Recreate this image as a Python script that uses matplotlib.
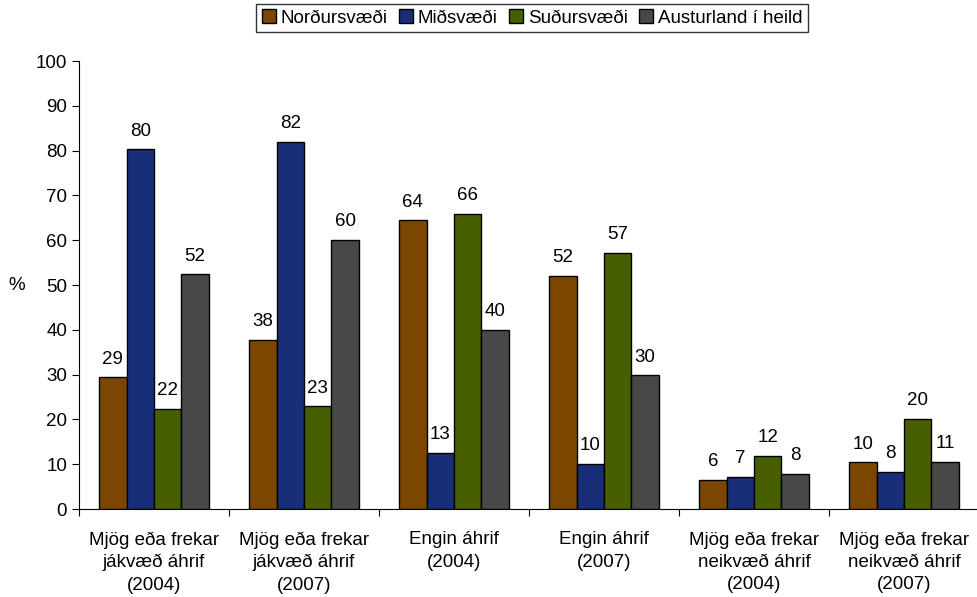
import numpy as np
import matplotlib.pyplot as plt

plt.rcParams['font.family'] = ['Liberation Sans', 'DejaVu Sans']

# categories and series
categories = ['Mjög eða frekar\njákvæð áhrif\n(2004)', 'Mjög eða frekar\njákvæð áhrif\n(2007)',
              'Engin áhrif\n(2004)', 'Engin áhrif\n(2007)',
              'Mjög eða frekar\nneikvæð áhrif\n(2004)', 'Mjög eða frekar\nneikvæð áhrif\n(2007)']
series_names = ['Norðursvæði', 'Miðsvæði', 'Suðursvæði', 'Austurland í heild']
nordur = [29.4, 37.7, 64.4, 52.0, 6.5, 10.4]
midur = [80.3, 82.0, 12.6, 10.0, 7.2, 8.3]
sudur = [22.4, 22.9, 65.8, 57.2, 11.8, 20.1]
austur = [52.4, 60.0, 40.0, 29.8, 7.8, 10.6]
labels = [[29, 38, 64, 52, 6, 10], [80, 82, 13, 10, 7, 8],
          [22, 23, 66, 57, 12, 20], [52, 60, 40, 30, 8, 11]]
colors = ['#7B4700', '#182E76', '#475F00', '#484848']
fs = 13.5

fig = plt.figure(figsize=(9.78, 5.97), dpi=100)
ax = fig.add_axes([79/978, 1 - 509/597, 900/978, 448/597])

x = np.arange(len(categories)) + 0.5
w = 0.183
for i, (vals, name, c) in enumerate(zip([nordur, midur, sudur, austur], series_names, colors)):
    pos = x + (i - 1.5) * w
    ax.bar(pos, vals, w, color=c, edgecolor='black', linewidth=1, label=name)
    for p, v, t in zip(pos, vals, labels[i]):
        ax.annotate(str(t), (p, v), xytext=(0, 7), textcoords='offset points',
                    ha='center', va='bottom', fontsize=fs)

ax.set_xlim(0, 6)
ax.set_ylim(0, 100)
ax.set_yticks(range(0, 101, 10))
ax.tick_params(axis='y', labelsize=fs, direction='out', length=5)
ax.set_xticks(np.arange(0, 7))
ax.set_xticklabels([])
ax.set_xticks(x, minor=True)
ax.set_xticklabels(categories, minor=True, fontsize=fs, linespacing=1.42)
ax.tick_params(axis='x', which='major', direction='out', length=5)
ax.tick_params(axis='x', which='minor', length=0, pad=16)
for s in ['top', 'right']:
    ax.spines[s].set_visible(False)
ax.set_ylabel('%', rotation=0, fontsize=fs, labelpad=14, va='center')

fig.legend(loc='upper center', bbox_to_anchor=(532/978, 1.0), ncol=4, fontsize=fs,
           frameon=True, fancybox=False, edgecolor='black', handlelength=0.75,
           handleheight=0.75, handletextpad=0.25, columnspacing=0.6, borderpad=0.3,
           borderaxespad=0.2)

fig.savefig('out.png', dpi=100)
